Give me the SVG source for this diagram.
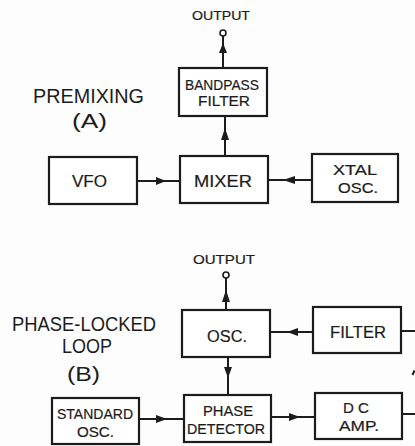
<svg xmlns="http://www.w3.org/2000/svg" width="415" height="446" viewBox="0 0 415 446">
<defs>
<style>
.box{fill:#fff;stroke:#1c1c1c;stroke-width:2.2}
.ln{fill:none;stroke:#1c1c1c;stroke-width:2}
.ah{fill:#1c1c1c;stroke:none}
.t{font-family:"Liberation Sans","DejaVu Sans",sans-serif;fill:#1c1c1c;stroke:#1c1c1c;stroke-width:0.2;text-anchor:start}
.lab{stroke-width:0}
.lt{font-size:21px}
.ot{font-size:12px}
.oc{fill:#fff;stroke:#1c1c1c;stroke-width:1.6}
</style>
</defs>
<rect x="0" y="0" width="415" height="446" fill="#fdfdfd"/>

<!-- Connectors -->
<g id="connectors">
  <!-- A -->
  <line class="ln" x1="223" y1="68" x2="223" y2="36"/>
  <polygon class="ah" points="223,43 219,53 227,53"/>
  <line class="ln" x1="225" y1="156" x2="225" y2="116"/>
  <polygon class="ah" points="225,128 221,140 229,140"/>
  <line class="ln" x1="137" y1="181" x2="180" y2="181"/>
  <polygon class="ah" points="166,181 156,177 156,185"/>
  <line class="ln" x1="268" y1="180" x2="312" y2="180"/>
  <polygon class="ah" points="283,180 295,176 295,184"/>
  <!-- B -->
  <line class="ln" x1="226" y1="310" x2="226" y2="278"/>
  <polygon class="ah" points="226,290 222,302 230,302"/>
  <line class="ln" x1="228" y1="357" x2="228" y2="395"/>
  <polygon class="ah" points="228,378 224,367 232,367"/>
  <line class="ln" x1="270" y1="332" x2="313" y2="332"/>
  <polygon class="ah" points="287,332 298,328 298,336"/>
  <line class="ln" x1="401" y1="331" x2="415" y2="331"/>
  <line class="ln" x1="139" y1="419" x2="184" y2="419"/>
  <polygon class="ah" points="167,419 156,415 156,423"/>
  <line class="ln" x1="271" y1="417" x2="315" y2="417"/>
  <polygon class="ah" points="300,417 289,413 289,421"/>
  <line class="ln" x1="402" y1="414" x2="415" y2="414"/>
  <line class="ln" x1="412.5" y1="375" x2="414.5" y2="370.5" stroke-width="1.4"/>
  <!-- output terminals -->
  <circle class="oc" cx="223" cy="33" r="3"/>
  <circle class="oc" cx="226" cy="275" r="3"/>
</g>

<!-- Labels -->
<g id="labels">
  <text class="t ot" x="192" y="20" textLength="58" lengthAdjust="spacingAndGlyphs">OUTPUT</text>
  <text class="t lab lt" x="33" y="103" textLength="111" lengthAdjust="spacingAndGlyphs">PREMIXING</text>
  <text class="t lab lt" x="72" y="128" textLength="35" lengthAdjust="spacingAndGlyphs">(A)</text>
  <text class="t ot" x="193" y="264" textLength="62" lengthAdjust="spacingAndGlyphs">OUTPUT</text>
  <text class="t lab" style="font-size:20px" x="12" y="331" textLength="144" lengthAdjust="spacingAndGlyphs">PHASE-LOCKED</text>
  <text class="t lab" style="font-size:20px" x="62" y="353" textLength="50" lengthAdjust="spacingAndGlyphs">LOOP</text>
  <text class="t lab" style="font-size:21px" x="67" y="381" textLength="33" lengthAdjust="spacingAndGlyphs">(B)</text>
</g>

<!-- Nodes -->
<g id="bandpass">
  <rect class="box" x="179" y="68" width="88" height="48"/>
  <text class="t" style="font-size:14px" x="185" y="90" textLength="74" lengthAdjust="spacingAndGlyphs">BANDPASS</text>
  <text class="t" style="font-size:14px" x="198" y="106" textLength="52" lengthAdjust="spacingAndGlyphs">FILTER</text>
</g>
<g id="vfo">
  <rect class="box" x="49" y="157" width="88" height="47"/>
  <text class="t" style="font-size:16px" x="72" y="187" textLength="35" lengthAdjust="spacingAndGlyphs">VFO</text>
</g>
<g id="mixer">
  <rect class="box" x="180" y="156" width="88" height="47"/>
  <text class="t" style="font-size:16px" x="194" y="187" textLength="58" lengthAdjust="spacingAndGlyphs">MIXER</text>
</g>
<g id="xtal">
  <rect class="box" x="312" y="154" width="86" height="48"/>
  <text class="t" style="font-size:14px" x="333" y="175" textLength="44" lengthAdjust="spacingAndGlyphs">XTAL</text>
  <text class="t" style="font-size:14px" x="338" y="193" textLength="40" lengthAdjust="spacingAndGlyphs">OSC.</text>
</g>
<g id="osc">
  <rect class="box" x="182" y="310" width="88" height="47"/>
  <text class="t" style="font-size:16px" x="207" y="342" textLength="40" lengthAdjust="spacingAndGlyphs">OSC.</text>
</g>
<g id="filter">
  <rect class="box" x="313" y="307" width="88" height="46"/>
  <text class="t" style="font-size:16px" x="330" y="338" textLength="56" lengthAdjust="spacingAndGlyphs">FILTER</text>
</g>
<g id="standard">
  <rect class="box" x="52" y="398" width="87" height="46"/>
  <text class="t" style="font-size:14px" x="57" y="419" textLength="76" lengthAdjust="spacingAndGlyphs">STANDARD</text>
  <text class="t" style="font-size:14px" x="77" y="437" textLength="37" lengthAdjust="spacingAndGlyphs">OSC.</text>
</g>
<g id="phasedet">
  <rect class="box" x="184" y="395" width="87" height="47"/>
  <text class="t" style="font-size:14px" x="203" y="416" textLength="50" lengthAdjust="spacingAndGlyphs">PHASE</text>
  <text class="t" style="font-size:14px" x="187" y="434" textLength="78" lengthAdjust="spacingAndGlyphs">DETECTOR</text>
</g>
<g id="dcamp">
  <rect class="box" x="315" y="393" width="87" height="46"/>
  <text class="t" style="font-size:14px" x="343" y="413" textLength="26" lengthAdjust="spacingAndGlyphs">D C</text>
  <text class="t" style="font-size:14px" x="339" y="431" textLength="40" lengthAdjust="spacingAndGlyphs">AMP.</text>
</g>
</svg>
